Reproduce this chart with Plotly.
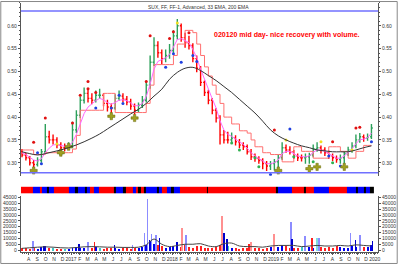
import plotly.graph_objects as go
import pandas as pd

# ---------------- data ----------------
bar_dates = pd.date_range("2016-07-08", periods=91, freq="14D")

open_ = [0.325, 0.317, 0.311, 0.300, 0.296, 0.305, 0.324, 0.357, 0.350, 0.350,
         0.339, 0.333, 0.333, 0.337, 0.372, 0.404, 0.437, 0.452, 0.441, 0.437,
         0.448, 0.448, 0.430, 0.422, 0.420, 0.441, 0.446, 0.439, 0.433, 0.424,
         0.415, 0.426, 0.437, 0.470, 0.520, 0.557, 0.541, 0.528, 0.535, 0.546,
         0.578, 0.600, 0.574, 0.563, 0.557, 0.528, 0.507, 0.476, 0.454, 0.437,
         0.415, 0.398, 0.361, 0.350, 0.350, 0.354, 0.346, 0.339, 0.335, 0.324,
         0.313, 0.309, 0.305, 0.298, 0.293, 0.298, 0.302, 0.311, 0.333, 0.328,
         0.324, 0.315, 0.311, 0.311, 0.313, 0.317, 0.330, 0.333, 0.328, 0.322,
         0.315, 0.311, 0.307, 0.311, 0.320, 0.328, 0.337, 0.350, 0.357, 0.354,
         0.357]
high = [0.330, 0.322, 0.315, 0.306, 0.312, 0.330, 0.385, 0.370, 0.362, 0.356,
        0.345, 0.342, 0.345, 0.390, 0.415, 0.445, 0.465, 0.460, 0.452, 0.458,
        0.462, 0.452, 0.438, 0.430, 0.450, 0.458, 0.452, 0.446, 0.440, 0.430,
        0.432, 0.446, 0.480, 0.535, 0.575, 0.566, 0.548, 0.548, 0.560, 0.590,
        0.615, 0.605, 0.585, 0.578, 0.562, 0.535, 0.512, 0.480, 0.460, 0.442,
        0.420, 0.404, 0.372, 0.368, 0.366, 0.360, 0.352, 0.345, 0.340, 0.330,
        0.320, 0.314, 0.310, 0.304, 0.304, 0.308, 0.318, 0.345, 0.340, 0.336,
        0.328, 0.320, 0.318, 0.320, 0.322, 0.340, 0.345, 0.338, 0.334, 0.327,
        0.320, 0.316, 0.318, 0.326, 0.335, 0.345, 0.362, 0.365, 0.362, 0.364,
        0.385]
low = [0.312, 0.305, 0.294, 0.288, 0.292, 0.300, 0.320, 0.342, 0.340, 0.332,
       0.326, 0.325, 0.328, 0.332, 0.365, 0.398, 0.430, 0.432, 0.428, 0.432,
       0.440, 0.424, 0.412, 0.408, 0.416, 0.436, 0.432, 0.426, 0.416, 0.405,
       0.410, 0.420, 0.432, 0.462, 0.512, 0.530, 0.515, 0.520, 0.528, 0.540,
       0.570, 0.565, 0.552, 0.548, 0.520, 0.498, 0.468, 0.446, 0.428, 0.406,
       0.388, 0.340, 0.342, 0.342, 0.345, 0.338, 0.332, 0.328, 0.318, 0.306,
       0.302, 0.298, 0.286, 0.282, 0.284, 0.283, 0.290, 0.306, 0.322, 0.318,
       0.308, 0.304, 0.303, 0.298, 0.298, 0.312, 0.324, 0.320, 0.315, 0.308,
       0.304, 0.300, 0.298, 0.298, 0.315, 0.322, 0.332, 0.344, 0.346, 0.348,
       0.352]
close = [0.317, 0.311, 0.300, 0.296, 0.305, 0.324, 0.357, 0.350, 0.350, 0.339,
         0.333, 0.333, 0.337, 0.372, 0.404, 0.437, 0.452, 0.441, 0.437, 0.448,
         0.448, 0.430, 0.422, 0.420, 0.441, 0.446, 0.439, 0.433, 0.424, 0.415,
         0.426, 0.437, 0.470, 0.520, 0.557, 0.541, 0.528, 0.535, 0.546, 0.578,
         0.600, 0.574, 0.563, 0.557, 0.528, 0.507, 0.476, 0.454, 0.437, 0.415,
         0.398, 0.361, 0.350, 0.350, 0.354, 0.346, 0.339, 0.335, 0.324, 0.313,
         0.309, 0.305, 0.298, 0.293, 0.298, 0.302, 0.311, 0.333, 0.328, 0.324,
         0.315, 0.311, 0.311, 0.313, 0.317, 0.330, 0.333, 0.328, 0.322, 0.315,
         0.311, 0.307, 0.311, 0.320, 0.328, 0.337, 0.350, 0.357, 0.354, 0.357,
         0.376]

# FF trailing step line
ff_stop = [0.328, 0.328, 0.328, 0.318, 0.318, 0.318, 0.322, 0.322, 0.322, 0.322,
           0.322, 0.322, 0.322, 0.330, 0.360, 0.415, 0.415, 0.415, 0.415, 0.415,
           0.415, 0.452, 0.452, 0.452, 0.410, 0.410, 0.410, 0.410, 0.410, 0.410,
           0.410, 0.410, 0.430, 0.470, 0.515, 0.515, 0.515, 0.515, 0.515, 0.535,
           0.560, 0.560, 0.590, 0.590, 0.585, 0.560, 0.535, 0.510, 0.490, 0.470,
           0.450, 0.430, 0.400, 0.400, 0.385, 0.385, 0.370, 0.370, 0.365, 0.350,
           0.335, 0.335, 0.322, 0.322, 0.318, 0.318, 0.318, 0.302, 0.302, 0.302,
           0.335, 0.335, 0.325, 0.325, 0.325, 0.310, 0.310, 0.310, 0.310, 0.335,
           0.335, 0.335, 0.325, 0.325, 0.310, 0.310, 0.325, 0.325, 0.338, 0.338,
           0.338]

# 33 EMA
ema33 = [0.322, 0.318, 0.312, 0.306, 0.304, 0.309, 0.322, 0.332, 0.339, 0.340,
         0.338, 0.336, 0.336, 0.345, 0.362, 0.385, 0.408, 0.422, 0.430, 0.436,
         0.441, 0.438, 0.432, 0.428, 0.432, 0.437, 0.438, 0.436, 0.431, 0.425,
         0.425, 0.430, 0.445, 0.472, 0.505, 0.522, 0.526, 0.530, 0.537, 0.552,
         0.570, 0.572, 0.568, 0.563, 0.548, 0.530, 0.505, 0.482, 0.462, 0.440,
         0.420, 0.392, 0.372, 0.362, 0.358, 0.352, 0.346, 0.340, 0.332, 0.322,
         0.315, 0.310, 0.304, 0.298, 0.298, 0.300, 0.306, 0.320, 0.325, 0.325,
         0.320, 0.315, 0.313, 0.313, 0.315, 0.323, 0.328, 0.328, 0.325, 0.320,
         0.315, 0.310, 0.310, 0.315, 0.322, 0.330, 0.342, 0.350, 0.352, 0.355,
         0.365]

# 200 EMA, every other bar
ema200 = [0.324, 0.320, 0.317, 0.320, 0.324, 0.328, 0.333, 0.339, 0.346, 0.354,
          0.363, 0.374, 0.385, 0.396, 0.407, 0.417, 0.430, 0.446, 0.461, 0.483,
          0.498, 0.507, 0.509, 0.502, 0.491, 0.480, 0.467, 0.454, 0.439, 0.424,
          0.409, 0.391, 0.372, 0.359, 0.350, 0.343, 0.337, 0.333, 0.328, 0.326,
          0.324, 0.324, 0.324, 0.328, 0.333, 0.337]

guide_levels = [0.6326, 0.2783]

# signal dots (bar index, price)
red_dot_idx = [3, 6, 13, 15, 17, 17, 19, 32, 33, 38, 39, 43, 65, 80, 86, 87]
red_dot_val = [0.345, 0.398, 0.387, 0.448, 0.478, 0.462, 0.454, 0.478, 0.578,
               0.572, 0.587, 0.585, 0.372, 0.346, 0.376, 0.378]
blue_dot_idx = [4, 5, 19, 23, 25, 26, 37, 39, 41, 44, 45, 64, 69, 79, 82, 90]
blue_dot_val = [0.322, 0.298, 0.420, 0.420, 0.448, 0.430, 0.509, 0.539, 0.520,
                0.535, 0.522, 0.274, 0.374, 0.315, 0.293, 0.346]
yellow_dot_idx = [9, 40, 68, 77, 85]
yellow_dot_val = [0.341, 0.606, 0.350, 0.346, 0.328]
green_dot_idx = [10, 23, 54, 56, 60, 61, 70, 75, 80]
green_dot_val = [0.318, 0.400, 0.343, 0.328, 0.311, 0.291, 0.313, 0.302, 0.300]
cross_idx = [3, 10, 12, 23, 29, 66, 74, 76, 83]
cross_val = [0.283, 0.322, 0.335, 0.402, 0.398, 0.283, 0.287, 0.291, 0.291]

# regime band (0 red, 1 blue, 2 black)
band_starts = ["2016-07-04", "2016-08-16", "2016-09-10", "2016-09-17", "2016-10-05",
               "2016-10-12", "2016-10-30", "2016-12-23", "2017-01-14", "2017-01-25",
               "2017-02-19", "2017-02-26", "2017-03-09", "2017-03-23", "2017-04-10",
               "2017-06-03", "2017-06-13", "2017-07-05", "2017-07-16", "2017-08-13",
               "2017-08-21", "2017-08-31", "2017-09-08", "2017-09-22", "2017-09-29",
               "2017-11-08", "2017-11-15", "2017-11-26", "2017-12-13", "2017-12-28",
               "2018-01-08", "2018-01-29", "2018-05-06", "2018-05-10", "2019-01-11",
               "2019-01-15", "2019-02-02", "2019-02-05", "2019-03-07", "2019-04-19",
               "2019-04-26", "2019-05-28", "2019-07-18", "2019-09-24", "2019-10-26",
               "2019-11-02", "2019-11-24", "2019-12-01", "2019-12-15"]
band_end = "2019-12-30"
band_state = [0, 1, 0, 1, 2, 1, 0, 1, 2, 1,
              2, 1, 0, 1, 0, 2, 1, 2, 0, 1,
              0, 2, 0, 2, 1, 2, 1, 0, 1, 2,
              1, 0, 2, 0, 2, 1, 2, 1, 0, 2,
              0, 1, 0, 1, 2, 1, 2, 1, 2]

# volume
vol_base = [1800, 2200, 1500, 2600, 1400, 3000, 3500, 1800, 2000, 1500,
            1200, 1600, 1400, 2500, 3000, 2200, 1800, 2600, 2400, 3000,
            2000, 1600, 2200, 1800, 2600, 1500, 1800, 2000, 1400, 1900,
            2200, 3000, 5000, 8000, 6000, 4500, 3500, 2500, 3000, 4000,
            3500, 3000, 4500, 3000, 2600, 3800, 4200, 2500, 2000, 2400,
            3000, 4500, 5000, 3500, 2500, 2000, 1600, 1800, 2500, 3000,
            2200, 1800, 1500, 2000, 2800, 3500, 3000, 4500, 3500, 2500,
            2000, 2200, 2800, 4000, 3000, 2500, 3500, 3000, 2200, 3000,
            2500, 4000, 2800, 2000, 2500, 3500, 3000, 4500, 3000, 2800,
            5000]
vol_ma = [1500, 2000, 2500, 2800, 2500, 2000, 1800, 2200, 2800, 3000,
          2800, 2500, 2500, 2300, 2300, 2500, 4500, 9500, 5000, 3000,
          4000, 5000, 5000, 5500, 3500, 3000, 5500, 6000, 3500, 3000,
          3000, 2500, 3500, 4000, 4000, 4000, 3000, 3500, 4000, 3500,
          3500, 4000, 3500, 4500, 4000, 3500]
spike_dates = ["2016-08-16", "2016-09-24", "2017-01-28", "2017-03-01", "2017-03-26",
               "2017-06-06", "2017-08-10", "2017-09-22", "2017-10-03", "2017-10-10",
               "2017-10-17", "2017-11-04", "2017-11-15", "2018-01-18", "2018-02-05",
               "2018-02-20", "2018-06-29", "2018-07-06", "2018-07-17", "2018-10-04",
               "2018-10-11", "2019-01-01", "2019-03-03", "2019-03-07", "2019-04-23",
               "2019-05-18", "2019-06-05", "2019-06-12", "2019-10-05", "2019-10-23",
               "2019-11-09", "2019-12-23"]
spike_vol = [8500, 3500, 6000, 7000, 7600, 4500, 5000, 15000, 44000, 9000,
             14500, 13000, 11000, 7000, 19500, 13500, 30000, 15000, 10000, 6000,
             7500, 14500, 24500, 10000, 12500, 11000, 11000, 11000, 15000, 9000,
             13000, 8500]
spike_kind = ["lb", "db", "db", "lb", "rd", "db", "lb", "lb", "lb", "db",
              "lb", "lb", "db", "db", "pk", "lb", "pk", "db", "db", "rd",
              "pk", "pk", "lb", "db", "lb", "rd", "cy", "lb", "lb", "db",
              "lb", "db"]

price_ticks = [0.30, 0.35, 0.40, 0.45, 0.50, 0.55, 0.60]
price_labels = ["0.30", "0.35", "0.40", "0.45", "0.50", "0.55", "0.60"]
vol_ticks = [0, 5000, 10000, 15000, 20000, 25000, 30000, 35000, 40000, 45000]
vol_labels = ["0", "5000", "10000", "15000", "20000", "25000", "30000", "35000", "40000", "45000"]
month_labels = ["A", "S", "O", "N", "D",
                "2017", "F", "M", "A", "M", "J", "J", "A", "S", "O", "N", "D",
                "2018", "F", "M", "A", "M", "J", "J", "A", "S", "O", "N", "D",
                "2019", "F", "M", "A", "M", "J", "J", "A", "S", "O", "N", "D",
                "2020"]
month_ticks = pd.date_range("2016-08-01", periods=len(month_labels), freq="MS")

title_text = "SUX, FF, FF-1, Advanced, 33 EMA, 200 EMA"
note_text = "020120 mid day- nice recovery with volume."

# ---------------- styling ----------------
GREEN = "#2ca05a"
RED = "#ff0000"
kind_color = {"lb": "#8c8cff", "db": "#0000cc", "rd": "#ff2020", "pk": "#ff9090", "cy": "#80dede"}
XR = ["2016-07-04", "2020-01-13"]
FONT = "Liberation Sans, Arial, sans-serif"
AX = "#555"

def px_y(p):
    return 1 - p / 265.0

fig = go.Figure()

# price bars
fig.add_trace(go.Ohlc(x=bar_dates, open=open_, high=high, low=low, close=close,
                      increasing=dict(line=dict(color=GREEN, width=1.4)),
                      decreasing=dict(line=dict(color=RED, width=1.4)),
                      tickwidth=0.35, xaxis="x", yaxis="y", hoverinfo="skip"))
fig.add_trace(go.Scatter(x=bar_dates, y=ff_stop, mode="lines", line_shape="hv",
                         line=dict(color="#ff7070", width=1), xaxis="x", yaxis="y"))
fig.add_trace(go.Scatter(x=bar_dates, y=ema33, mode="lines",
                         line=dict(color="#ff66ff", width=1), xaxis="x", yaxis="y"))
fig.add_trace(go.Scatter(x=bar_dates[::2], y=ema200, mode="lines", line_shape="spline",
                         line=dict(color="#333333", width=1), xaxis="x", yaxis="y4"))

def dots(idx, vals, color, size=3, symbol="circle", line=None):
    m = dict(color=color, size=size, symbol=symbol)
    if line:
        m["line"] = line
    fig.add_trace(go.Scatter(x=[bar_dates[i] for i in idx], y=vals, mode="markers",
                             marker=m, xaxis="x", yaxis="y"))

dots(red_dot_idx, red_dot_val, "#e01010")
dots(blue_dot_idx, blue_dot_val, "#2040e0")
dots(yellow_dot_idx, yellow_dot_val, "#f0e020")
dots(green_dot_idx, green_dot_val, "#30b050")
dots(cross_idx, cross_val, "#a0a020", size=6, symbol="cross",
     line=dict(color="#6a6a10", width=0.5))

# regime band
fig.add_trace(go.Heatmap(x=band_starts + [band_end], y=[0], z=[band_state],
                         zmin=0, zmax=2, showscale=False, xaxis="x2", yaxis="y2",
                         colorscale=[[0, "#ff0000"], [0.333, "#ff0000"], [0.334, "#0000ff"],
                                     [0.666, "#0000ff"], [0.667, "#000000"], [1, "#000000"]]))

# volume
base_colors = ["#0000ee" if c > o else ("#ff2020" if c < o else "#40c8c8")
               for o, c in zip(open_, close)]
DAY = 86400000
fig.add_trace(go.Bar(x=bar_dates, y=vol_base, marker=dict(color=base_colors, line=dict(width=0)),
                     width=3.5 * DAY, xaxis="x3", yaxis="y3"))
fig.add_trace(go.Bar(x=spike_dates, y=spike_vol,
                     marker=dict(color=[kind_color[k] for k in spike_kind], line=dict(width=0)),
                     width=3 * DAY, xaxis="x3", yaxis="y3"))
fig.add_trace(go.Scatter(x=bar_dates[::2], y=vol_ma, mode="lines", line_shape="spline",
                         line=dict(color="#444444", width=1), xaxis="x3", yaxis="y5"))

tickfont = dict(family=FONT, size=5, color="#333")
XD = [21 / 400, 380 / 400]
ydom_main = [px_y(176), px_y(2)]
ydom_band = [px_y(194), px_y(187)]
ydom_vol = [px_y(253), px_y(196)]
prange = [0.2717, 0.650]
vrange = [-1698, 46698]

common_y = dict(showgrid=False, zeroline=False, ticks="outside", ticklen=2, tickcolor=AX,
                showline=True, linecolor=AX, linewidth=1, tickfont=tickfont)

fig.update_layout(
    width=400, height=265, margin=dict(l=0, r=0, t=0, b=0),
    paper_bgcolor="white", plot_bgcolor="white", showlegend=False, bargap=0,
    font=dict(family=FONT, size=5, color="#333"),
    xaxis=dict(domain=XD, range=XR, type="date", anchor="y", showticklabels=False,
               showgrid=False, zeroline=False, ticks="", rangeslider=dict(visible=False)),
    yaxis=dict(domain=ydom_main, range=prange, tickvals=price_ticks, ticktext=price_labels,
               anchor="x", side="left",
               minor=dict(dtick=0.01, tick0=0, ticks="outside", ticklen=1, tickcolor=AX),
               **common_y),
    yaxis4=dict(range=prange, tickvals=price_ticks, ticktext=price_labels, overlaying="y",
                anchor="x", side="right",
                minor=dict(dtick=0.01, tick0=0, ticks="outside", ticklen=1, tickcolor=AX),
                **common_y),
    xaxis2=dict(domain=XD, range=XR, type="date", anchor="y2", matches="x", visible=False),
    yaxis2=dict(domain=ydom_band, range=[-0.5, 0.5], anchor="x2", visible=False),
    xaxis3=dict(domain=XD, range=XR, type="date", anchor="y3", matches="x",
                tickvals=month_ticks, ticktext=month_labels, ticks="outside", ticklen=2,
                tickcolor=AX, showline=True, linecolor=AX, linewidth=1, showgrid=False,
                zeroline=False, tickfont=tickfont, tickangle=0,
                minor=dict(dtick=7 * DAY, ticks="outside", ticklen=1, tickcolor=AX)),
    yaxis3=dict(domain=ydom_vol, range=vrange, tickvals=vol_ticks, ticktext=vol_labels,
                anchor="x3", side="left", **common_y),
    yaxis5=dict(range=vrange, tickvals=vol_ticks, ticktext=vol_labels, overlaying="y3",
                anchor="x3", side="right", **common_y),
    shapes=[dict(type="line", xref="x domain", yref="y", x0=0, x1=1, y0=lv, y1=lv,
                 line=dict(color="#7070ff", width=1.5)) for lv in guide_levels]
           + [dict(type="rect", xref="paper", yref="paper", x0=0.002, x1=0.998, y0=0.002, y1=0.998,
                   line=dict(color="#888", width=1))],
    annotations=[
        dict(text=title_text, xref="paper", yref="paper", x=0.4975, y=px_y(6),
             showarrow=False, font=dict(family=FONT, size=5, color="#333"),
             xanchor="center", yanchor="middle"),
        dict(text="<b>" + note_text + "</b>", xref="paper", yref="paper", x=288 / 400, y=px_y(34),
             showarrow=False, font=dict(family=FONT, size=7, color="#ff0000"),
             xanchor="center", yanchor="middle"),
    ],
)

fig.write_html("out.html")
